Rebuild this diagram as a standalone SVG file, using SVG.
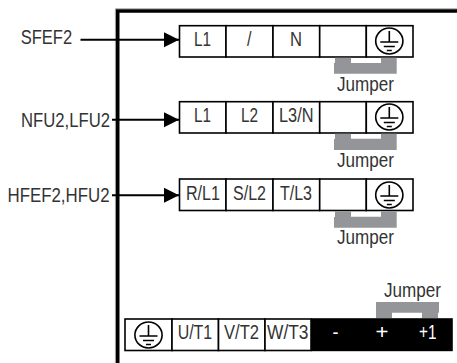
<svg xmlns="http://www.w3.org/2000/svg" width="457" height="363" viewBox="0 0 457 363">
<style>
text{font-family:"Liberation Sans",Arial,sans-serif;font-size:20px;fill:#333}
.cell{fill:#fff;stroke:#000;stroke-width:1.6}
.jump{fill:#939598}
.wire{stroke:#000;stroke-width:2;fill:none}
.frame{stroke:#000;stroke-width:3.6;fill:none}
.shade{stroke:#a8a8a8;stroke-width:1;fill:none}
.gc{fill:none;stroke:#000;stroke-width:1.6}
.w{fill:#fff}
</style>
<defs>
<g id="gnd"><ellipse class="gc" rx="13.600" ry="13"/><path class="gc" d="M0-10V1M-9 1H9M-5.500 5.500H5.500M-2.500 9.500H2.500"/></g>
<marker id="arr" markerUnits="userSpaceOnUse" markerWidth="16" markerHeight="16" refX="15" refY="8" orient="auto"><path d="M0 0.500L15 8L0 15.500Z"/></marker>
</defs>
<path class="shade" d="M457 8.700H115.400V363"/>
<path class="frame" d="M457 11H117.700V363"/>
<g id="connectors">
<path class="wire" d="M80.500 39.700H179" marker-end="url(#arr)"/>
<path class="wire" d="M112 119.700H179" marker-end="url(#arr)"/>
<path class="wire" d="M112 195.300H179" marker-end="url(#arr)"/>
</g>
<g id="label-sfef2"><text x="20.700" y="44" textLength="51.500" lengthAdjust="spacingAndGlyphs">SFEF2</text></g>
<g id="label-nfu2"><text x="21" y="126.500" textLength="89" lengthAdjust="spacingAndGlyphs">NFU2,LFU2</text></g>
<g id="label-hfef2"><text x="7.500" y="201.500" textLength="102" lengthAdjust="spacingAndGlyphs">HFEF2,HFU2</text></g>
<g id="row1">
<rect class="cell" x="179.500" y="25.700" width="46.500" height="31.300"/><rect class="cell" x="226" y="25.700" width="47" height="31.300"/><rect class="cell" x="273" y="25.700" width="46.700" height="31.300"/><rect class="cell" x="319.700" y="25.700" width="46.600" height="31.300"/><rect class="cell" x="366.300" y="25.700" width="46.700" height="31.300"/>
<use href="#gnd" x="389.300" y="41"/>
<text x="194" y="46" textLength="17" lengthAdjust="spacingAndGlyphs">L1</text>
<text x="247" y="46" textLength="4.500" lengthAdjust="spacingAndGlyphs">/</text>
<text x="290" y="46" textLength="12" lengthAdjust="spacingAndGlyphs">N</text>
</g>
<g id="jumper1"><path class="jump" d="M335 57.800H351V63H381V57.800H396.700V73.700H334V63H335Z"/><text x="337" y="90.500" textLength="57" lengthAdjust="spacingAndGlyphs">Jumper</text></g>
<g id="row2">
<rect class="cell" x="179.500" y="101.700" width="46.500" height="31.300"/><rect class="cell" x="226" y="101.700" width="47" height="31.300"/><rect class="cell" x="273" y="101.700" width="46.700" height="31.300"/><rect class="cell" x="319.700" y="101.700" width="46.600" height="31.300"/><rect class="cell" x="366.300" y="101.700" width="46.700" height="31.300"/>
<use href="#gnd" x="389.300" y="117"/>
<text x="194" y="122" textLength="17" lengthAdjust="spacingAndGlyphs">L1</text>
<text x="241" y="122" textLength="17" lengthAdjust="spacingAndGlyphs">L2</text>
<text x="279" y="122" textLength="34.500" lengthAdjust="spacingAndGlyphs">L3/N</text>
</g>
<g id="jumper2"><path class="jump" d="M335 133.800H351V138.700H381V133.800H396.700V150H334V139H335Z"/><text x="337" y="167" textLength="57" lengthAdjust="spacingAndGlyphs">Jumper</text></g>
<g id="row3">
<rect class="cell" x="179.500" y="179" width="46.500" height="31.500"/><rect class="cell" x="226" y="179" width="47" height="31.500"/><rect class="cell" x="273" y="179" width="46.700" height="31.500"/><rect class="cell" x="319.700" y="179" width="46.600" height="31.500"/><rect class="cell" x="366.300" y="179" width="46.700" height="31.500"/>
<use href="#gnd" x="389.300" y="195"/>
<text x="186" y="199.500" textLength="34" lengthAdjust="spacingAndGlyphs">R/L1</text>
<text x="233" y="199.500" textLength="33" lengthAdjust="spacingAndGlyphs">S/L2</text>
<text x="280" y="199.500" textLength="32" lengthAdjust="spacingAndGlyphs">T/L3</text>
</g>
<g id="jumper3"><path class="jump" d="M335 211.300H351V216.700H381V211.300H396.700V227.700H334V217H335Z"/><text x="337" y="244" textLength="57" lengthAdjust="spacingAndGlyphs">Jumper</text></g>
<g id="row4">
<rect class="cell" x="125" y="319" width="47" height="31.500"/><rect class="cell" x="172" y="319" width="46.500" height="31.500"/><rect class="cell" x="218.500" y="319" width="46.500" height="31.500"/><rect class="cell" x="265" y="319" width="46" height="31.500"/>
<rect x="311" y="318.200" width="141.800" height="33"/>
<use href="#gnd" x="148.500" y="335"/>
<text x="177.700" y="339" textLength="34.500" lengthAdjust="spacingAndGlyphs">U/T1</text>
<text x="224" y="339" textLength="35" lengthAdjust="spacingAndGlyphs">V/T2</text>
<text x="267" y="339" textLength="41.500" lengthAdjust="spacingAndGlyphs">W/T3</text>
<text class="w" x="332.500" y="339" textLength="6" lengthAdjust="spacingAndGlyphs">-</text>
<text class="w" x="375.500" y="339" textLength="13" lengthAdjust="spacingAndGlyphs">+</text>
<text class="w" x="419" y="339" textLength="17.500" lengthAdjust="spacingAndGlyphs">+1</text>
</g>
<g id="jumper4"><path class="jump" d="M376 302H439V312.700H438V318H422V312.700H392V318H376Z"/><text x="384" y="296.500" textLength="57" lengthAdjust="spacingAndGlyphs">Jumper</text></g>
</svg>
